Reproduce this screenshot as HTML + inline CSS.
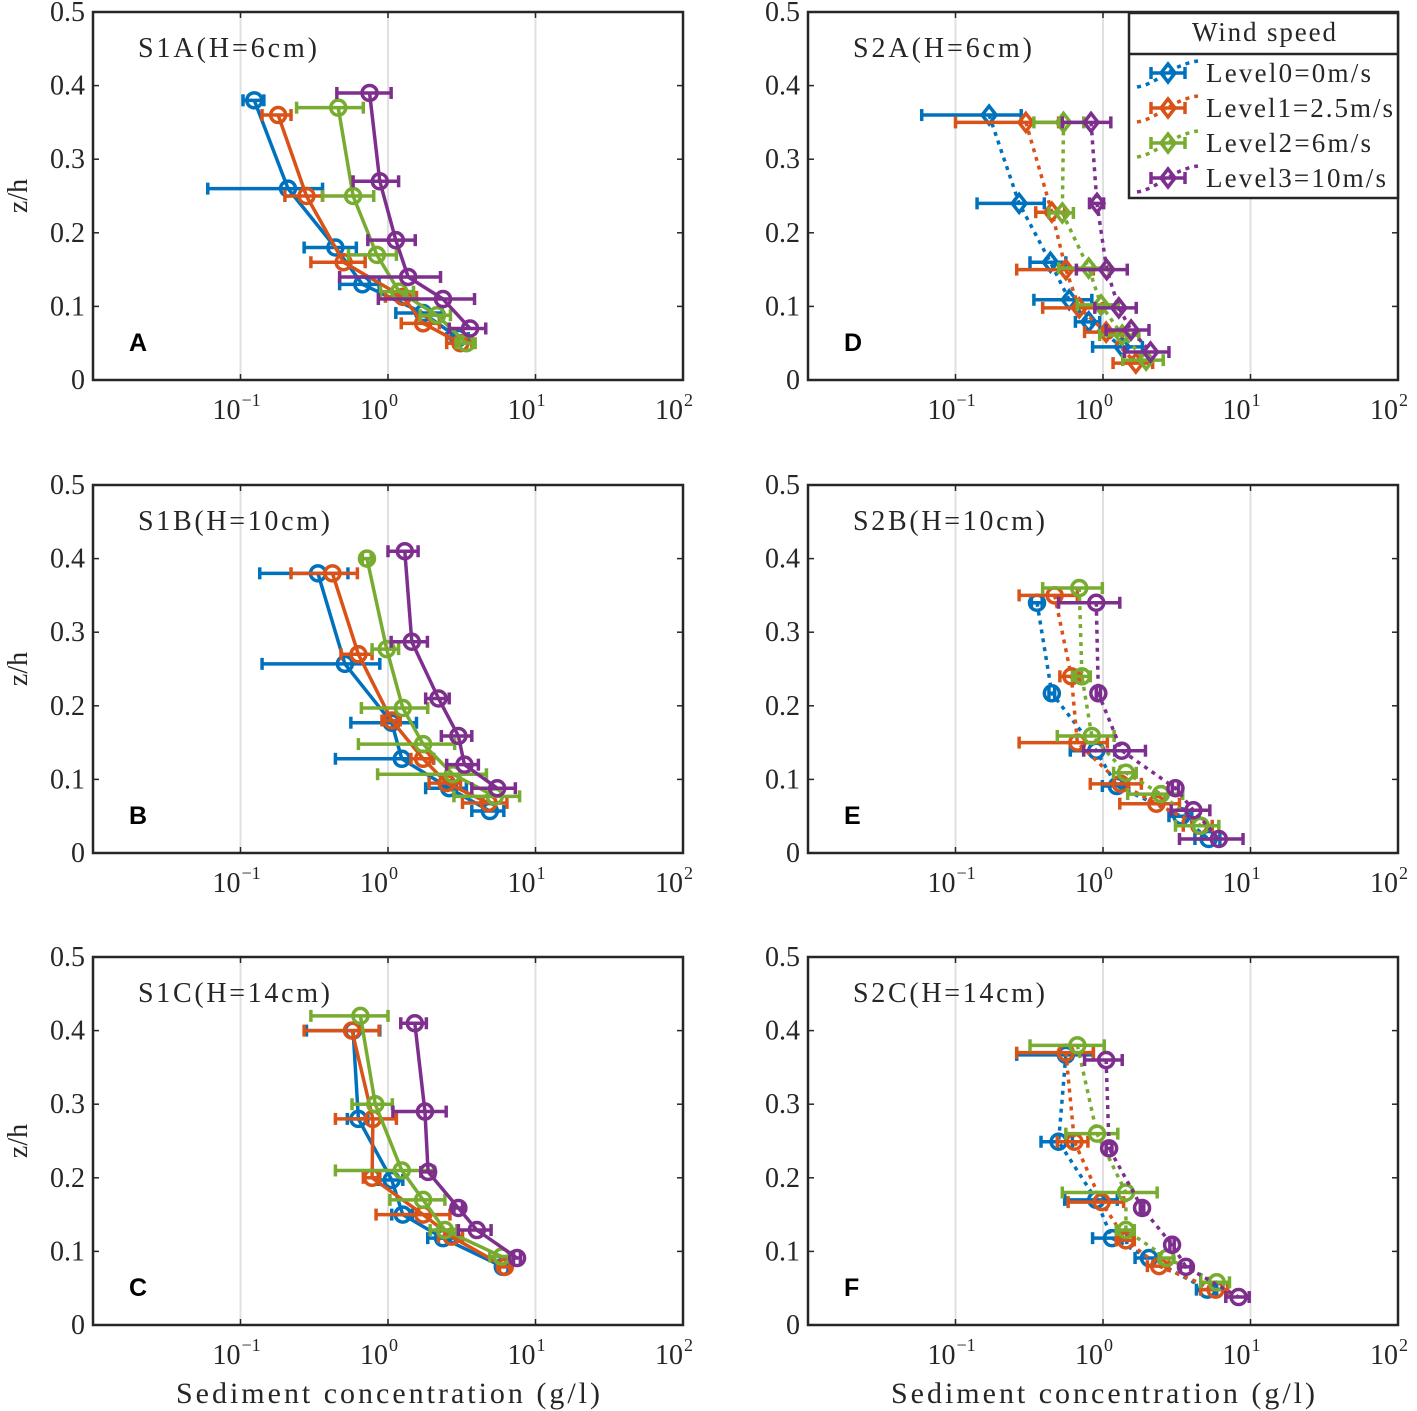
<!DOCTYPE html>
<html><head><meta charset="utf-8">
<style>
html,body{margin:0;padding:0;background:#fff;}
svg{display:block;}
text{font-family:"Liberation Serif",serif;fill:#262626;}
</style></head>
<body>
<svg id="chart" width="1417" height="1411" viewBox="0 0 1417 1411" xmlns="http://www.w3.org/2000/svg"></svg>
<script>
const levelNames = ["Level0=0m/s","Level1=2.5m/s","Level2=6m/s","Level3=10m/s"];
const levelColors = ["#0072BD","#D95319","#77AC30","#7E2F8E"];
const xTickExps = [-1,0,1,2];
const yTicks = [0,0.1,0.2,0.3,0.4,0.5];
const yTickLabels = ["0","0.1","0.2","0.3","0.4","0.5"];

const panelA_z = [[0.38,0.26,0.18,0.13,0.091,0.057],[0.36,0.25,0.16,0.113,0.077,0.05],[0.37,0.25,0.17,0.12,0.088,0.05],[0.39,0.27,0.19,0.14,0.11,0.07]];
const panelA_c = [[0.124,0.21,0.44,0.67,1.73,3.0],[0.18,0.28,0.50,1.26,1.73,3.1],[0.46,0.58,0.84,1.19,2.15,3.4],[0.75,0.88,1.13,1.37,2.36,3.6]];
const panelA_err = [[0.02,0.15,0.17,0.2,0.6,0.5],[0.04,0.08,0.2,0.3,0.5,0.6],[0.22,0.22,0.3,0.3,0.5,0.5],[0.3,0.3,0.4,0.9,1.5,1.0]];

const panelB_z = [[0.38,0.257,0.177,0.128,0.088,0.057],[0.38,0.27,0.18,0.128,0.095,0.068],[0.40,0.277,0.197,0.148,0.107,0.077],[0.41,0.287,0.21,0.159,0.12,0.088]];
const panelB_c = [[0.335,0.51,1.06,1.24,2.6,4.9],[0.42,0.63,1.06,1.73,2.5,4.8],[0.72,0.98,1.26,1.73,2.75,5.3],[1.3,1.45,2.2,3.0,3.3,5.5]];
const panelB_err = [[0.2,0.37,0.5,0.8,0.8,1.2],[0.2,0.15,0.15,0.3,0.6,1.6],[0.05,0.2,0.6,1.1,1.9,2.5],[0.3,0.4,0.4,0.7,0.8,1.8]];

const panelC_z = [[0.40,0.28,0.197,0.15,0.118,0.079],[0.40,0.28,0.20,0.15,0.12,0.079],[0.42,0.30,0.21,0.17,0.129,0.093],[0.41,0.29,0.208,0.159,0.129,0.091]];
const panelC_c = [[0.58,0.63,1.06,1.26,2.36,6.0],[0.57,0.79,0.78,1.73,2.7,6.2],[0.65,0.82,1.24,1.73,2.43,5.9],[1.52,1.78,1.87,3.0,4.0,7.5]];
const panelC_err = [[0.3,0.1,0.2,0.2,0.5,0.5],[0.3,0.35,0.1,0.9,0.5,0.5],[0.35,0.25,0.8,0.7,0.5,1.0],[0.3,0.7,0.2,0.2,1.0,0.4]];

const panelD_z = [[0.36,0.24,0.16,0.109,0.079,0.045],[0.35,0.228,0.15,0.098,0.065,0.023],[0.35,0.227,0.152,0.102,0.061,0.027],[0.35,0.24,0.15,0.098,0.068,0.038]];
const panelD_c = [[0.169,0.27,0.44,0.59,0.8,1.35],[0.30,0.45,0.56,0.69,1.05,1.67],[0.54,0.53,0.8,0.97,1.35,1.96],[0.83,0.91,1.06,1.28,1.55,2.1]];
const panelD_err = [[0.11,0.13,0.12,0.25,0.15,0.5],[0.2,0.1,0.3,0.3,0.3,0.5],[0.2,0.1,0.3,0.3,0.4,0.6],[0.3,0.1,0.4,0.4,0.5,0.7]];

const panelE_z = [[0.34,0.217,0.139,0.091,0.05,0.019],[0.35,0.24,0.15,0.094,0.067,0.037],[0.36,0.24,0.159,0.109,0.08,0.037],[0.34,0.217,0.139,0.088,0.058,0.019]];
const panelE_c = [[0.357,0.45,0.9,1.24,3.4,5.2],[0.47,0.61,0.67,1.32,2.3,4.5],[0.69,0.72,0.84,1.43,2.47,4.6],[0.9,0.93,1.34,3.1,4.1,6.1]];
const panelE_err = [[0.03,0.02,0.3,0.25,0.6,1.0],[0.2,0.1,0.4,0.5,1.0,1.0],[0.3,0.1,0.35,0.25,1.0,1.5],[0.4,0.03,0.6,0.15,1.2,2.8]];

const panelF_z = [[0.367,0.249,0.17,0.118,0.091,0.048],[0.37,0.249,0.167,0.115,0.08,0.048],[0.38,0.26,0.18,0.129,0.091,0.058],[0.36,0.24,0.159,0.109,0.079,0.038]];
const panelF_c = [[0.56,0.50,0.9,1.15,2.05,5.1],[0.56,0.64,0.98,1.43,2.4,5.8],[0.67,0.91,1.43,1.43,2.7,5.9],[1.05,1.1,1.84,2.94,3.65,8.3]];
const panelF_err = [[0.3,0.12,0.35,0.3,0.4,0.8],[0.3,0.15,0.4,0.2,0.4,1.2],[0.35,0.35,0.9,0.2,0.3,1.3],[0.3,0.05,0.05,0.1,0.3,1.5]];

const panelTitles = ["S1A(H=6cm)","S1B(H=10cm)","S1C(H=14cm)","S2A(H=6cm)","S2B(H=10cm)","S2C(H=14cm)"];
const panelLetters = ["A","B","C","D","E","F"];

const NS = "http://www.w3.org/2000/svg";
const svg = document.getElementById("chart");
function mk(tag, attrs, parent){
  const e = document.createElementNS(NS, tag);
  for (const k in attrs) e.setAttribute(k, attrs[k]);
  (parent||svg).appendChild(e);
  return e;
}
const W = 590, H = 368, DEC = 147.5;
const panels = [
  {x0:93, y0:12, z:panelA_z, c:panelA_c, e:panelA_err, dotted:false, marker:"circle", key:"a"},
  {x0:93, y0:485, z:panelB_z, c:panelB_c, e:panelB_err, dotted:false, marker:"circle", key:"b"},
  {x0:93, y0:957, z:panelC_z, c:panelC_c, e:panelC_err, dotted:false, marker:"circle", key:"c"},
  {x0:808, y0:12, z:panelD_z, c:panelD_c, e:panelD_err, dotted:true, marker:"diamond", key:"d"},
  {x0:808, y0:485, z:panelE_z, c:panelE_c, e:panelE_err, dotted:true, marker:"circle", key:"e"},
  {x0:808, y0:957, z:panelF_z, c:panelF_c, e:panelF_err, dotted:true, marker:"circle", key:"f"}
];

function drawMarker(g, type, x, y, col){
  if (type === "circle") {
    mk("circle",{cx:x,cy:y,r:7.5,fill:"none",stroke:col,"stroke-width":3.5},g);
  } else {
    mk("polygon",{points:`${x},${y-9} ${x+7},${y} ${x},${y+9} ${x-7},${y}`,fill:"none",stroke:col,"stroke-width":3.5},g);
  }
}

panels.forEach((p, pi) => {
  const xs = c => p.x0 + (Math.log10(c) + 2) * DEC;
  const ys = z => p.y0 + H - z / 0.5 * H;
  const g = mk("g", {});
  
  
  [-1,0,1].forEach(ex => {
    const gl = mk("line",{x1:xs(Math.pow(10,ex)),x2:xs(Math.pow(10,ex)),y1:p.y0,y2:p.y0+H,stroke:"#e0e0e0","stroke-width":2},g);
    
    
  });
  yTicks.forEach((t, i) => {
    const y = ys(t);
    mk("line",{x1:p.x0,x2:p.x0+6,y1:y,y2:y,stroke:"#262626","stroke-width":1.5},g);
    mk("line",{x1:p.x0+W,x2:p.x0+W-6,y1:y,y2:y,stroke:"#262626","stroke-width":1.5},g);
    const tl = mk("text",{x:p.x0-8,y:y+9,"text-anchor":"end","font-size":28},g);
    tl.textContent = yTickLabels[i];
    
    
  });
  xTickExps.forEach(ex => {
    const x = xs(Math.pow(10, ex));
    mk("line",{x1:x,x2:x,y1:p.y0+H,y2:p.y0+H-6,stroke:"#262626","stroke-width":1.5},g);
    mk("line",{x1:x,x2:x,y1:p.y0,y2:p.y0+6,stroke:"#262626","stroke-width":1.5},g);
    const tl = mk("text",{x:x-14,y:p.y0+H+39,"text-anchor":"middle","font-size":28},g);
    tl.textContent = "10";
    
    
    const sp = mk("text",{x:x+1,y:p.y0+H+26,"text-anchor":"start","font-size":18},g);
    sp.textContent = ex < 0 ? "\u2212" + (-ex) : String(ex);
    
    
  });
  for (let s = 0; s < 4; s++) {
    const col = levelColors[s];
    const sg = mk("g", {}, g);
    
    
    const pts = p.z[s].map((z, i) => xs(p.c[s][i]) + "," + ys(z)).join(" ");
    const pl = mk("polyline",{points:pts,fill:"none",stroke:col,"stroke-width":3.5,"stroke-linejoin":"round"},sg);
    if (p.dotted) pl.setAttribute("stroke-dasharray","4,5");
    
    
    p.z[s].forEach((z, i) => {
      const c = p.c[s][i], er = p.e[s][i];
      const lo = Math.max(c - er, c * 0.05), hi = c + er;
      const y = ys(z), xl = xs(lo), xh = xs(hi);
      const eb = mk("g", {}, sg);
      
      
      mk("line",{x1:xl,x2:xh,y1:y,y2:y,stroke:col,"stroke-width":3.5},eb);
      mk("line",{x1:xl,x2:xl,y1:y-6,y2:y+6,stroke:col,"stroke-width":3.5},eb);
      mk("line",{x1:xh,x2:xh,y1:y-6,y2:y+6,stroke:col,"stroke-width":3.5},eb);
      const mg = mk("g", {}, sg);
      
      
      drawMarker(mg, p.marker, xs(c), y, col);
    });
  }
  const bx = mk("rect",{x:p.x0,y:p.y0,width:W,height:H,fill:"none",stroke:"#262626","stroke-width":2.5},g);
  
  
  const tt = mk("text",{x:p.x0+45,y:p.y0+45,"font-size":28,textLength:(pi%3===0?179:192),lengthAdjust:"spacing"},g);
  tt.textContent = panelTitles[pi];
  
  
  const lt = mk("text",{x:p.x0+36,y:p.y0+339,"font-size":25,"font-weight":"bold",style:"font-family:'Liberation Sans',sans-serif;fill:#000"},g);
  lt.textContent = panelLetters[pi];
  
  
  if (p.x0 === 93) {
    const yl = mk("text",{x:0,y:0,"font-size":28,"text-anchor":"middle",transform:`translate(27,${p.y0+H/2}) rotate(-90)`},g);
    yl.textContent = "z/h";
    
    
  }
  if (p.y0 === 957) {
    const xl = mk("text",{x:p.x0+83,y:1403,"font-size":30,textLength:424,lengthAdjust:"spacing"},g);
    xl.textContent = "Sediment concentration (g/l)";
    
    
  }
});

const lg = mk("g", {});


mk("rect",{x:1129,y:13,width:269,height:185,fill:"#fff",stroke:"#262626","stroke-width":2.5},lg);
mk("line",{x1:1129,x2:1398,y1:54,y2:54,stroke:"#262626","stroke-width":2.5},lg);
const ltitle = mk("text",{x:1192,y:41,"font-size":27,textLength:144,lengthAdjust:"spacing"},lg);
ltitle.textContent = "Wind speed";


const legendWidths = [165,187,165,180];
levelNames.forEach((nm, i) => {
  const y = 73 + i * 35, col = levelColors[i];
  const le = mk("g", {}, lg);
  
  
  mk("path",{d:`M1137,${y+14} C1160,${y+10} 1170,${y-8} 1198,${y-12}`,fill:"none",stroke:col,"stroke-width":3.5,"stroke-dasharray":"4,5"},le);
  mk("line",{x1:1151,x2:1185,y1:y,y2:y,stroke:col,"stroke-width":3.5},le);
  mk("line",{x1:1151,x2:1151,y1:y-6,y2:y+6,stroke:col,"stroke-width":3.5},le);
  mk("line",{x1:1185,x2:1185,y1:y-6,y2:y+6,stroke:col,"stroke-width":3.5},le);
  drawMarker(le, "diamond", 1168, y, col);
  const t = mk("text",{x:1206,y:y+9,"font-size":27,textLength:legendWidths[i],lengthAdjust:"spacing"},le);
  t.textContent = nm;
});
</script>
</body></html>
